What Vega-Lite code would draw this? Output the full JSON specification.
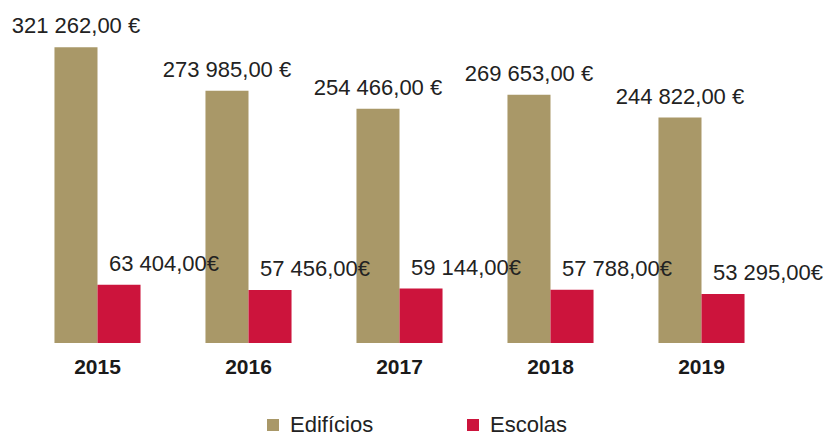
{
  "$schema": "https://vega.github.io/schema/vega-lite/v6.json",
  "autosize": {"type": "none"},
  "width": 755,
  "height": 313,
  "padding": {"left": 22, "top": 30, "right": 62, "bottom": 93},
  "background": "white",
  "config": {
    "font": "Liberation Sans",
    "view": {"stroke": null}
  },
  "data": {
    "values": [
      {"ano": "2015", "serie": "Edifícios", "valor": 321262, "rotulo": "321 262,00 €"},
      {"ano": "2015", "serie": "Escolas", "valor": 63404, "rotulo": "63 404,00€"},
      {"ano": "2016", "serie": "Edifícios", "valor": 273985, "rotulo": "273 985,00 €"},
      {"ano": "2016", "serie": "Escolas", "valor": 57456, "rotulo": "57 456,00€"},
      {"ano": "2017", "serie": "Edifícios", "valor": 254466, "rotulo": "254 466,00 €"},
      {"ano": "2017", "serie": "Escolas", "valor": 59144, "rotulo": "59 144,00€"},
      {"ano": "2018", "serie": "Edifícios", "valor": 269653, "rotulo": "269 653,00 €"},
      {"ano": "2018", "serie": "Escolas", "valor": 57788, "rotulo": "57 788,00€"},
      {"ano": "2019", "serie": "Edifícios", "valor": 244822, "rotulo": "244 822,00 €"},
      {"ano": "2019", "serie": "Escolas", "valor": 53295, "rotulo": "53 295,00€"}
    ]
  },
  "encoding": {
    "x": {
      "field": "ano", "type": "nominal",
      "scale": {"paddingInner": 0.43, "paddingOuter": 0.215},
      "axis": {
        "title": null, "domain": false, "ticks": false, "labelAngle": 0,
        "labelFontSize": 21, "labelFontWeight": "bold", "labelColor": "#1a1a1a",
        "labelPadding": 13
      }
    },
    "xOffset": {"field": "serie", "type": "nominal", "sort": ["Edifícios", "Escolas"]},
    "y": {
      "field": "valor", "type": "quantitative",
      "scale": {"domain": [0, 340000], "nice": false},
      "axis": null
    }
  },
  "layer": [
    {
      "mark": {"type": "bar"},
      "encoding": {
        "color": {
          "field": "serie", "type": "nominal",
          "scale": {"domain": ["Edifícios", "Escolas"], "range": ["#A99868", "#CC143C"]},
          "legend": {
            "title": null, "orient": "none", "direction": "horizontal",
            "legendX": 240, "legendY": 384, "padding": 0,
            "symbolType": "square", "symbolSize": 144, "symbolStrokeWidth": 0,
            "labelFontSize": 22, "labelColor": "#222222", "labelOffset": 6,
            "columnPadding": 88, "labelLimit": 200
          }
        }
      }
    },
    {
      "transform": [{"filter": "datum.serie === 'Edifícios'"}],
      "mark": {"type": "text", "fontSize": 22, "baseline": "alphabetic", "dy": -14, "color": "#222222"},
      "encoding": {"text": {"field": "rotulo"}}
    },
    {
      "transform": [{"filter": "datum.serie === 'Escolas'"}],
      "mark": {"type": "text", "fontSize": 22, "baseline": "alphabetic", "dy": -14, "dx": 45, "color": "#222222"},
      "encoding": {"text": {"field": "rotulo"}}
    }
  ]
}
